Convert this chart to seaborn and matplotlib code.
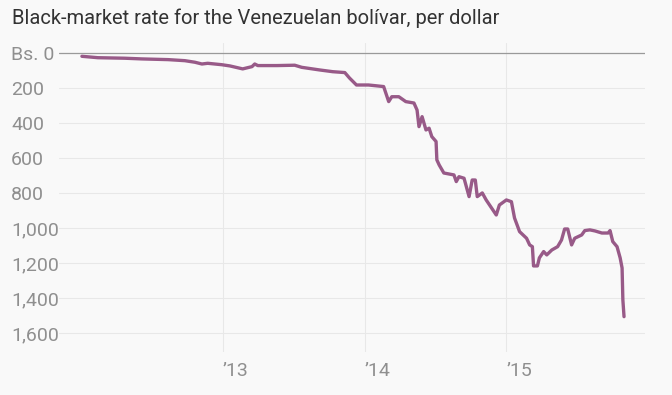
import pandas as pd
import matplotlib
matplotlib.use("Agg")
import matplotlib.pyplot as plt
import seaborn as sns

dates = [
    "2012-01-04", "2012-02-14", "2012-04-23", "2012-06-07", "2012-08-13", "2012-09-25",
    "2012-10-21", "2012-11-08", "2012-11-23", "2012-12-29", "2013-01-19", "2013-02-21",
    "2013-03-17", "2013-03-24", "2013-04-01", "2013-05-20", "2013-07-05", "2013-07-23",
    "2013-09-07", "2013-10-11", "2013-11-11", "2013-11-23", "2013-12-11", "2014-01-11",
    "2014-02-19", "2014-03-04", "2014-03-12", "2014-03-30", "2014-04-17", "2014-05-08",
    "2014-05-16", "2014-05-21", "2014-05-29", "2014-06-08", "2014-06-16", "2014-06-23",
    "2014-07-04", "2014-07-06", "2014-07-12", "2014-07-24", "2014-08-19", "2014-08-25",
    "2014-09-01", "2014-09-14", "2014-09-27", "2014-10-05", "2014-10-13", "2014-10-18",
    "2014-10-31", "2014-11-10", "2014-12-06", "2014-12-14", "2015-01-01", "2015-01-14",
    "2015-01-22", "2015-02-04", "2015-02-22", "2015-03-02", "2015-03-09", "2015-03-12",
    "2015-03-22", "2015-03-27", "2015-04-07", "2015-04-15", "2015-04-28", "2015-05-13",
    "2015-05-23", "2015-05-31", "2015-06-08", "2015-06-18", "2015-06-26", "2015-07-14",
    "2015-07-22", "2015-08-04", "2015-08-17", "2015-09-04", "2015-09-20", "2015-09-25",
    "2015-10-02", "2015-10-13", "2015-10-21", "2015-10-26", "2015-10-28", "2015-10-31",
]
rates = [
    19, 27, 30, 34, 38, 44,
    53, 63, 59, 67, 74, 91,
    78, 63, 72, 72, 70, 82,
    97, 107, 112, 143, 183, 183,
    192, 278, 250, 250, 278, 286,
    326, 421, 364, 440, 430, 478,
    506, 611, 640, 686, 697, 735,
    707, 716, 821, 726, 726, 821,
    800, 840, 926, 869, 840, 850,
    943, 1021, 1059, 1097, 1107, 1217,
    1217, 1171, 1135, 1154, 1126, 1107,
    1069, 1006, 1006, 1097, 1059, 1040,
    1015, 1011, 1017, 1029, 1029, 1015,
    1078, 1107, 1171, 1229, 1411, 1507,
]
y_ticks = [0, 200, 400, 600, 800, 1000, 1200, 1400, 1600]
x_ticks = ["2013-01-01", "2014-01-01", "2015-01-01"]
x_labels = ["\u201913", "\u201914", "\u201915"]
title = "Black-market rate for the Venezuelan bolívar, per dollar"

df = pd.DataFrame({"date": pd.to_datetime(dates), "rate": rates})

bg = "#f9f9f9"
sns.set_style("white", {"axes.facecolor": bg, "figure.facecolor": bg})
plt.rcParams["font.family"] = ["Roboto", "DejaVu Sans"]

W, H = 672, 395
fig = plt.figure(figsize=(W / 100, H / 100), dpi=100)
left, right, top, bottom = 59, 645, 43, 352
ax = fig.add_axes([left / W, 1 - bottom / H, (right - left) / W, (bottom - top) / H])

sns.lineplot(data=df, x="date", y="rate", ax=ax, color="#985a88", linewidth=2.4)

ax.set_xlim(pd.Timestamp("2011-11-06"), pd.Timestamp("2015-12-24"))
ax.set_ylim(1709, -57)

ax.set_yticks(y_ticks)
ax.set_yticklabels(["Bs. 0" if v == 0 else f"{v:,}" for v in y_ticks])
ax.set_xticks(pd.to_datetime(x_ticks))
ax.set_xticklabels(x_labels)

ax.tick_params(axis="y", length=0, pad=34.6, labelsize=14, labelcolor="#8f8f8f")
ax.tick_params(axis="x", length=0, pad=7, labelsize=14, labelcolor="#8f8f8f")
for lab in ax.get_yticklabels():
    lab.set_horizontalalignment("left")
for lab in ax.get_xticklabels():
    lab.set_horizontalalignment("left")

ax.grid(True, color="#e8e8e8", linewidth=0.8)
ax.axhline(0, color="#9a9a9a", linewidth=0.9, zorder=1.5)
for s in ax.spines.values():
    s.set_visible(False)
ax.set_xlabel("")
ax.set_ylabel("")

fig.text(12 / W, 1 - 18 / H, title, fontsize=14.5, color="#333333", va="center", ha="left")

fig.savefig("out.png", dpi=100, facecolor=bg)
